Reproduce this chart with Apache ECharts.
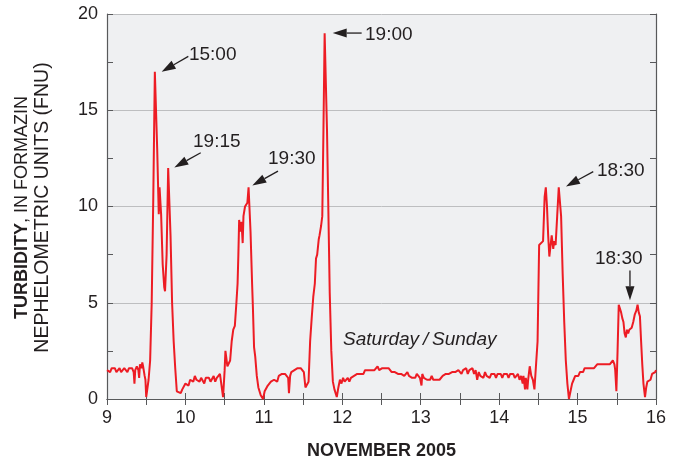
<!DOCTYPE html>
<html>
<head>
<meta charset="utf-8">
<script src="https://cdn.jsdelivr.net/npm/echarts@6/dist/echarts.min.js"></script>
<style>
  html, body { margin: 0; padding: 0; background: #fff; }
  #chart { width: 678px; height: 465px; }
</style>
</head>
<body>
<div id="chart"></div>
<script>
// 浊度时间序列 (day of November 2005, FNU)
const days = [
  9.00, 9.02, 9.04, 9.06, 9.08, 9.10, 9.12, 9.14, 9.16, 9.18, 9.20, 9.22, 9.24, 9.26, 9.28, 9.30,
  9.32, 9.34, 9.35, 9.36, 9.38, 9.40, 9.41, 9.42, 9.44, 9.45, 9.46, 9.47, 9.48, 9.49, 9.50, 9.51,
  9.53, 9.55, 9.57, 9.59, 9.61, 9.62, 9.64, 9.66, 9.67, 9.68, 9.69, 9.71, 9.73, 9.74, 9.76, 9.78,
  9.795, 9.81, 9.83, 9.85, 9.87, 9.89, 9.91, 9.94, 9.96, 9.98, 10.00, 10.02, 10.04, 10.06, 10.08,
  10.10, 10.12, 10.14, 10.16, 10.18, 10.20, 10.22, 10.24, 10.26, 10.28, 10.30, 10.32, 10.34, 10.36,
  10.38, 10.40, 10.42, 10.44, 10.46, 10.48, 10.50, 10.51, 10.52, 10.535, 10.55, 10.57, 10.59, 10.61,
  10.63, 10.65, 10.665, 10.675, 10.685, 10.70, 10.715, 10.73, 10.74, 10.76, 10.79, 10.805, 10.815,
  10.83, 10.85, 10.86, 10.875, 10.89, 10.91, 10.93, 10.96, 10.99, 11.01, 11.03, 11.05, 11.07, 11.09,
  11.11, 11.13, 11.15, 11.17, 11.19, 11.21, 11.23, 11.25, 11.27, 11.29, 11.31, 11.32, 11.335, 11.35,
  11.37, 11.39, 11.41, 11.43, 11.45, 11.47, 11.49, 11.51, 11.53, 11.55, 11.57, 11.59, 11.61, 11.63,
  11.65, 11.665, 11.68, 11.70, 11.71, 11.73, 11.745, 11.76, 11.775, 11.79, 11.805, 11.82, 11.84,
  11.86, 11.88, 11.90, 11.93, 11.95, 11.97, 11.99, 12.01, 12.03, 12.05, 12.07, 12.09, 12.11, 12.13,
  12.15, 12.17, 12.19, 12.21, 12.23, 12.25, 12.27, 12.29, 12.31, 12.33, 12.35, 12.37, 12.39, 12.41,
  12.43, 12.45, 12.47, 12.49, 12.51, 12.53, 12.55, 12.57, 12.59, 12.61, 12.63, 12.65, 12.67, 12.69,
  12.71, 12.73, 12.75, 12.77, 12.79, 12.81, 12.83, 12.85, 12.87, 12.89, 12.91, 12.93, 12.95, 12.97,
  12.99, 13.01, 13.02, 13.04, 13.06, 13.08, 13.10, 13.12, 13.14, 13.16, 13.18, 13.20, 13.22, 13.24,
  13.26, 13.28, 13.30, 13.32, 13.34, 13.36, 13.38, 13.40, 13.42, 13.44, 13.46, 13.48, 13.50, 13.52,
  13.54, 13.56, 13.58, 13.60, 13.62, 13.64, 13.66, 13.68, 13.70, 13.72, 13.74, 13.76, 13.78, 13.80,
  13.82, 13.84, 13.86, 13.88, 13.90, 13.92, 13.94, 13.96, 13.98, 14.00, 14.02, 14.04, 14.06, 14.08,
  14.10, 14.12, 14.14, 14.16, 14.18, 14.20, 14.22, 14.24, 14.26, 14.28, 14.30, 14.31, 14.33, 14.34,
  14.36, 14.37, 14.39, 14.41, 14.43, 14.45, 14.47, 14.49, 14.51, 14.535, 14.56, 14.58, 14.595, 14.61,
  14.625, 14.64, 14.655, 14.67, 14.69, 14.70, 14.72, 14.74, 14.76, 14.775, 14.79, 14.81, 14.83, 14.85,
  14.87, 14.89, 14.91, 14.93, 14.95, 14.97, 14.99, 15.01, 15.03, 15.05, 15.07, 15.09, 15.11, 15.13,
  15.15, 15.17, 15.19, 15.21, 15.23, 15.25, 15.27, 15.29, 15.31, 15.33, 15.35, 15.37, 15.39, 15.41,
  15.43, 15.45, 15.47, 15.48, 15.495, 15.51, 15.525, 15.54, 15.555, 15.57, 15.585, 15.60, 15.615,
  15.63, 15.645, 15.66, 15.675, 15.69, 15.71, 15.73, 15.75, 15.765, 15.78, 15.795, 15.81, 15.825,
  15.84, 15.86, 15.875, 15.89, 15.91, 15.93, 15.95, 15.97, 15.99, 16.00
];
const turbidity = [
  1.5, 1.6, 1.4, 1.6, 1.5, 1.6, 1.4, 1.5, 1.6, 1.4, 1.5, 1.6, 1.5, 1.4, 1.6, 1.5,
  1.6, 1.4, 0.8, 1.5, 1.7, 1.5, 1.1, 1.8, 1.6, 1.9, 1.7, 1.8, 1.2, 1.0, 0.1, 0.0,
  1.0, 2.0, 5.0, 10.4, 17.0, 17.0, 13.0, 9.6, 11.0, 11.0, 9.6, 7.0, 5.8, 5.6, 7.5, 12.0,
  12.0, 8.5, 5.0, 3.0, 1.6, 0.4, 0.3, 0.3, 0.5, 0.6, 0.8, 0.9, 0.7, 1.0, 1.1,
  0.9, 1.2, 1.0, 1.1, 0.9, 1.1, 1.0, 0.8, 1.1, 1.0, 1.1, 0.9, 1.0, 1.2,
  0.9, 1.1, 1.0, 1.3, 1.2, 0.1, 1.5, 2.5, 2.5, 1.7, 1.8, 2.0, 3.0, 3.6,
  3.8, 5.0, 6.0, 7.5, 9.3, 8.7, 9.2, 8.1, 9.5, 10.0, 10.2, 11.0, 11.0,
  8.7, 6.0, 4.8, 2.7, 2.2, 1.2, 0.6, 0.2, 0.0, 0.4, 0.5, 0.7, 0.6, 0.9,
  0.8, 1.0, 1.1, 0.9, 1.2, 1.1, 1.3, 1.2, 1.3, 1.3, 1.1, 0.3, 1.2, 1.4,
  1.3, 1.5, 1.4, 1.6, 1.5, 1.6, 1.5, 1.4, 0.6, 0.5, 0.9, 3.0, 4.2, 5.3,
  6.0, 7.3, 7.5, 8.3, 8.5, 9.0, 9.5, 14.0, 19.0, 19.0, 14.0, 10.4, 5.5,
  2.5, 0.9, 0.5, 0.1, 0.6, 1.0, 0.8, 1.1, 0.9, 1.0, 1.1, 0.9, 1.1, 1.0,
  1.2, 1.1, 1.3, 1.2, 1.3, 1.4, 1.3, 1.5, 1.4, 1.5, 1.6, 1.5, 1.6, 1.5,
  1.6, 1.7, 1.5, 1.6, 1.6, 1.5, 1.6, 1.5, 1.6, 1.5, 1.4, 1.5, 1.4, 1.5,
  1.3, 1.4, 1.3, 1.4, 1.2, 1.3, 1.4, 1.2, 1.3, 1.1, 1.2, 1.1, 1.3, 1.2,
  1.1, 0.7, 1.3, 1.1, 1.2, 1.0, 1.1, 1.0, 1.2, 1.0, 1.1, 1.0, 1.1, 1.0,
  1.1, 1.2, 1.1, 1.3, 1.2, 1.3, 1.2, 1.4, 1.3, 1.4, 1.3, 1.5, 1.4, 1.3,
  1.5, 1.4, 1.6, 1.3, 1.5, 1.4, 1.6, 1.3, 1.5, 1.0, 1.4, 1.2, 1.3, 1.1,
  1.4, 1.2, 1.3, 1.1, 1.3, 1.2, 1.3, 1.1, 1.3, 1.2, 1.3, 1.1, 1.3, 1.2,
  1.3, 1.1, 1.3, 1.2, 1.3, 1.1, 1.2, 1.3, 1.0, 1.2, 0.8, 1.2, 0.5, 1.1,
  0.5, 1.0, 1.7, 1.2, 1.0, 0.5, 0.4, 3.0, 8.0, 8.1, 8.2, 10.5, 11.0, 10.0,
  8.5, 7.4, 7.5, 8.5, 7.8, 8.2, 8.0, 9.5, 11.0, 10.9, 9.5, 6.5, 4.0, 2.0,
  0.8, 0.0, 0.4, 0.8, 1.0, 1.2, 1.3, 1.2, 1.4, 1.5, 1.4, 1.6, 1.5, 1.6,
  1.7, 1.6, 1.7, 1.6, 1.7, 1.8, 1.7, 1.8, 1.7, 1.8, 1.7, 1.8, 1.9, 1.8,
  1.9, 2.0, 1.8, 1.5, 0.4, 2.5, 4.9, 5.0, 4.5, 4.2, 4.0, 3.4, 3.2,
  3.6, 3.4, 3.6, 3.5, 3.7, 4.0, 4.4, 4.6, 4.9, 4.5, 4.3, 3.0, 1.8,
  0.8, 0.1, 0.6, 0.9, 1.0, 1.0, 1.3, 1.2, 1.4, 1.5
];

// 峰值标注
const annotLabels = ["15:00", "19:15", "19:30", "19:00", "18:30", "18:30"];
const annotTips = [[9.697, 17.0], [9.858, 12.03], [10.853, 11.09], [11.878, 19.01], [14.852, 11.04], [15.668, 5.13]];
const annotTails = [[10.037, 17.8], [10.195, 12.79], [11.18, 11.84], [12.247, 19.01], [15.2, 11.81], [15.668, 6.68]];
const annotTextAt = [[10.045, 17.89], [10.097, 13.37], [11.053, 12.47], [12.29, 18.92], [15.248, 11.88], [15.222, 7.26]];
const noteText = "Saturday\u2009/\u2009Sunday";
const noteAt = [12.01, 3.08];

const FONT = "'Liberation Sans', Arial, Helvetica, sans-serif";

const chart = echarts.init(document.getElementById("chart"));

const option = {
  backgroundColor: "#ffffff",
  animation: false,
  grid: {
    left: 107,
    right: 22,
    top: 14,
    bottom: 62,
    show: true,
    backgroundColor: "#eff0f2",
    borderWidth: 0,
  },
  xAxis: [
    {
      type: "value",
      min: 9,
      max: 16,
      interval: 1,
      name: "NOVEMBER 2005",
      nameLocation: "middle",
      nameGap: 43,
      nameTextStyle: { fontFamily: FONT, fontSize: 18, fontWeight: "bold", color: "#231f20" },
      axisLine: { lineStyle: { color: "#58595b", width: 1.2 } },
      axisTick: { inside: true, length: 6, lineStyle: { color: "#58595b" } },
      minorTick: { show: true, splitNumber: 2, length: 6, lineStyle: { color: "#58595b" } },
      axisLabel: { fontFamily: FONT, fontSize: 18, color: "#231f20", margin: 10 },
      splitLine: { show: false },
    },
    {
      type: "value",
      position: "top",
      min: 9,
      max: 16,
      interval: 1,
      axisLine: { lineStyle: { color: "#58595b", width: 1.2 } },
      axisTick: { inside: true, length: 6, lineStyle: { color: "#58595b" } },
      minorTick: { show: true, splitNumber: 2, length: 6, lineStyle: { color: "#58595b" } },
      axisLabel: { show: false },
      splitLine: { show: false },
    },
  ],
  yAxis: [
    {
      type: "value",
      min: 0,
      max: 20,
      interval: 5,
      axisLine: { show: true, lineStyle: { color: "#58595b", width: 1.2 } },
      axisTick: { show: true, inside: true, length: 6, lineStyle: { color: "#58595b" } },
      minorTick: { show: true, splitNumber: 2, length: 6, lineStyle: { color: "#58595b" } },
      axisLabel: { fontFamily: FONT, fontSize: 18, color: "#231f20", margin: 9 },
      splitLine: { show: true, lineStyle: { color: "#bdbec0", width: 1 } },
    },
    {
      type: "value",
      position: "right",
      min: 0,
      max: 20,
      interval: 5,
      axisLine: { show: true, lineStyle: { color: "#58595b", width: 1.2 } },
      axisTick: { show: true, inside: true, length: 6, lineStyle: { color: "#58595b" } },
      minorTick: { show: true, splitNumber: 2, length: 6, lineStyle: { color: "#58595b" } },
      axisLabel: { show: false },
      splitLine: { show: false },
    },
  ],
  series: [
    {
      type: "line",
      data: days.map((d, i) => [d, turbidity[i]]),
      showSymbol: false,
      symbol: "none",
      lineStyle: { color: "#ed1c24", width: 2 },
      z: 3,
    },
  ],
};

chart.setOption(option);

// 箭头和文字, 位置经由坐标系换算
const toPx = (p) => chart.convertToPixel({ gridIndex: 0 }, p);
const graphics = [];
annotLabels.forEach((label, i) => {
  const tip = toPx(annotTips[i]);
  const tail = toPx(annotTails[i]);
  const dx = tip[0] - tail[0];
  const dy = tip[1] - tail[1];
  const len = Math.sqrt(dx * dx + dy * dy);
  const ux = dx / len;
  const uy = dy / len;
  const headLen = 14;
  const headW = 4.5;
  const bx = tip[0] - ux * headLen;
  const by = tip[1] - uy * headLen;
  graphics.push({
    type: "line",
    shape: { x1: tail[0], y1: tail[1], x2: bx, y2: by },
    style: { stroke: "#231f20", lineWidth: 1.3 },
    z: 10,
  });
  graphics.push({
    type: "polygon",
    shape: {
      points: [
        [tip[0], tip[1]],
        [bx - uy * headW, by + ux * headW],
        [bx + uy * headW, by - ux * headW],
      ],
    },
    style: { fill: "#231f20" },
    z: 10,
  });
  const tp = toPx(annotTextAt[i]);
  graphics.push({
    type: "text",
    x: tp[0],
    y: tp[1],
    style: {
      text: label,
      fontFamily: FONT,
      fontSize: 19,
      fill: "#231f20",
      align: "left",
      verticalAlign: "middle",
    },
    z: 10,
  });
});
const np = toPx(noteAt);
graphics.push({
  type: "text",
  x: np[0],
  y: np[1],
  style: {
    text: noteText,
    fontFamily: FONT,
    fontSize: 19,
    fontStyle: "italic",
    fill: "#231f20",
    align: "left",
    verticalAlign: "middle",
  },
  z: 10,
});

// 纵轴标题 (两行, 旋转)
const mid = toPx([9, 10])[1] + 1;
graphics.push({
  type: "text",
  x: 22,
  y: mid,
  rotation: Math.PI / 2,
  style: {
    rich: {
      b: { fontFamily: FONT, fontSize: 18, fontWeight: "bold", fill: "#231f20" },
      n: { fontFamily: FONT, fontSize: 18, fill: "#231f20" },
    },
    text: "{b|TURBIDITY}{n|, IN FORMAZIN}",
    align: "center",
    verticalAlign: "middle",
  },
});
graphics.push({
  type: "text",
  x: 43,
  y: mid,
  rotation: Math.PI / 2,
  style: {
    text: "NEPHELOMETRIC UNITS (FNU)",
    fontFamily: FONT,
    fontSize: 19.5,
    fill: "#231f20",
    align: "center",
    verticalAlign: "middle",
  },
});
chart.setOption({ graphic: graphics });
</script>
</body>
</html>
